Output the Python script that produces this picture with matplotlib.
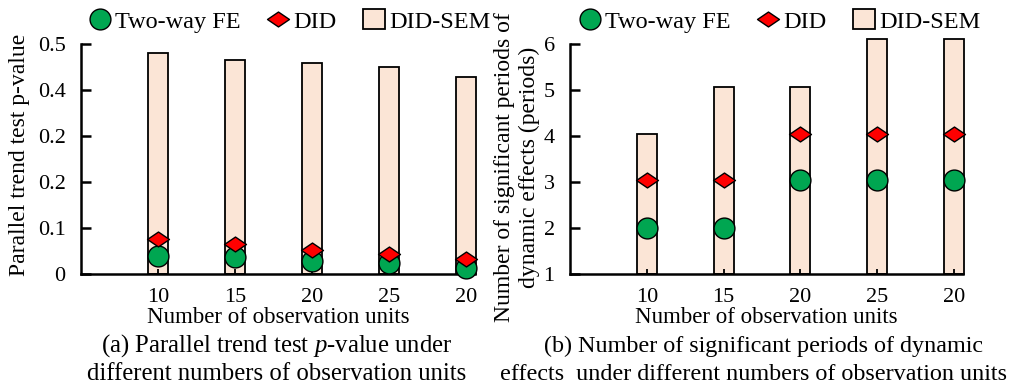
import matplotlib
matplotlib.use("Agg")
import matplotlib.pyplot as plt
from matplotlib.path import Path
from matplotlib.lines import Line2D
from matplotlib.patches import Patch

plt.rcParams['font.family'] = ['Liberation Serif', 'DejaVu Serif']
plt.rcParams['mathtext.fontset'] = 'custom'
plt.rcParams['mathtext.rm'] = 'Liberation Serif'
plt.rcParams['mathtext.it'] = 'Liberation Serif:italic'

# ---- data ----
units = ['10', '15', '20', '25', '20']
# (a) parallel trend test p-value
p_sem = [0.480, 0.466, 0.459, 0.451, 0.429]
p_did = [0.076, 0.065, 0.052, 0.043, 0.032]
p_fe = [0.039, 0.036, 0.028, 0.025, 0.014]
p_ticks = [0, 0.1, 0.2, 0.3, 0.4, 0.5]
p_ticklabels = ['0', '0.1', '0.2', '0.2', '0.4', '0.5']
# (b) number of significant periods of dynamic effects
n_sem = [4.05, 5.05, 5.07, 6.1, 6.1]
n_did = [3.05, 3.05, 4.05, 4.05, 4.05]
n_fe = [2.0, 2.0, 3.05, 3.05, 3.05]
n_ticks = [1, 2, 3, 4, 5, 6]

GREEN = '#00A651'
RED = '#FF0000'
PEACH = '#FBE5D6'

# flattened diamond marker
diamond = Path([(-1, 0), (0, 0.68), (1, 0), (0, -0.68), (-1, 0)],
               [Path.MOVETO, Path.LINETO, Path.LINETO, Path.LINETO, Path.CLOSEPOLY])

fig = plt.figure(figsize=(10.16, 3.83), dpi=100)
ax1 = fig.add_axes([0.0797, 0.2846, 0.3878, 0.6004])
ax2 = fig.add_axes([0.561, 0.2838, 0.387, 0.6022])

x = [1, 2, 3, 4, 5]


def draw(ax, sem, did, fe, bottom, legend_x):
    ax.bar(x, [v - bottom for v in sem], bottom=bottom, width=0.26, color=PEACH,
           edgecolor='black', linewidth=1.3, zorder=1, clip_on=False)
    ax.plot(x, fe, ls='none', marker='o', ms=15, mfc=GREEN, mec='black',
            mew=1.0, zorder=3, clip_on=False)
    ax.plot(x, did, ls='none', marker=diamond, ms=15.8, mfc=RED, mec='black',
            mew=1.0, zorder=4, clip_on=False)
    ax.set_xlim(0, 5.12)
    ax.set_xticks(x)
    ax.set_xticklabels(units)
    for s in ['top', 'right']:
        ax.spines[s].set_visible(False)
    for s in ['left', 'bottom']:
        ax.spines[s].set_linewidth(1.8)
    ax.tick_params(axis='y', direction='in', length=7, width=1.8, labelsize=16, pad=11)
    ax.tick_params(axis='x', direction='in', length=3.5, width=1.3, labelsize=16, pad=10)
    ax.set_xlabel('Number of observation units', fontsize=16.5, labelpad=0)
    handles = [
        Line2D([], [], ls='none', marker='o', ms=15, mfc=GREEN, mec='black', mew=1.0),
        Line2D([], [], ls='none', marker=diamond, ms=15.8, mfc=RED, mec='black', mew=1.0),
        Patch(facecolor=PEACH, edgecolor='black', linewidth=1.3),
    ]
    fig.legend(handles, ['Two-way FE', 'DID', 'DID-SEM'], ncol=3, frameon=False,
               loc='center left', bbox_to_anchor=(legend_x, 1 - 21 / 383),
               fontsize=17.5, handlelength=0.87, handleheight=0.85,
               handletextpad=0.2, columnspacing=1.1, borderaxespad=0, borderpad=0)


draw(ax1, p_sem, p_did, p_fe, 0, 89 / 1016)
ax1.set_ylim(0, 0.5)
ax1.set_yticks(p_ticks)
ax1.set_yticklabels(p_ticklabels)
ax1.set_ylabel('Parallel trend test p-value', fontsize=17)
ax1.yaxis.set_label_coords(-0.13, 0.52)

draw(ax2, n_sem, n_did, n_fe, 1, 579 / 1016)
ax2.set_ylim(1, 6)
ax2.set_yticks(n_ticks)
ax2.set_ylabel('Number of significant periods of\ndynamic effects (periods)',
               fontsize=17, linespacing=1.25)
ax2.yaxis.set_label_coords(-0.075, 0.465)

# captions
fig.text(277 / 1016, 1 - 352 / 383, '(a) Parallel trend test $\\it{p}$-value under',
         ha='center', va='baseline', fontsize=17.8)
fig.text(277 / 1016, 1 - 380 / 383, 'different numbers of observation units',
         ha='center', va='baseline', fontsize=17.8)
fig.text(764 / 1016, 1 - 352 / 383, '(b) Number of significant periods of dynamic',
         ha='center', va='baseline', fontsize=17.4)
fig.text(754 / 1016, 1 - 380 / 383, 'effects  under different numbers of observation units',
         ha='center', va='baseline', fontsize=17.4)

fig.savefig('out.png', dpi=100)
